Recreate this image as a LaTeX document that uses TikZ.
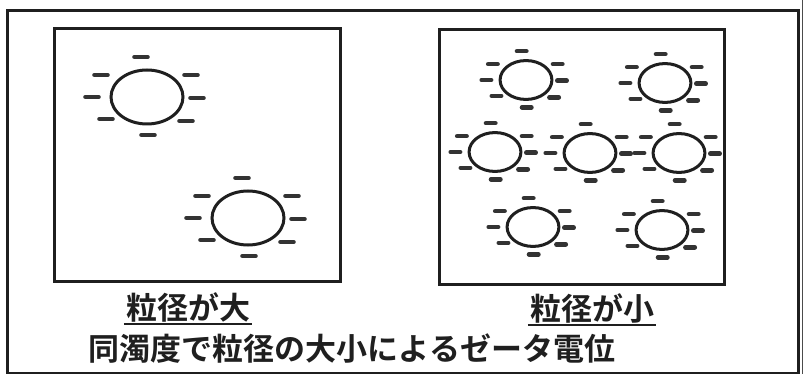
\documentclass[tikz,border=0pt]{standalone}
\usepackage{fontspec}
\newfontfamily\jpfont{Noto Sans CJK JP}[BoldFont={* Bold}]
\tikzset{
  frame/.style={draw=black!88, line width=3pt},
  boxline/.style={draw=black!88, line width=3pt},
  ringline/.style={draw=black!88, line width=3pt},
  charge/.style={draw=black!80, line width=4.6pt, line cap=round},
  label/.style={font=\jpfont\bfseries\fontsize{31}{34}\selectfont, text=black!88, inner sep=0pt},
  particle/.pic={
    \draw[ringline] (0,0) ellipse [x radius=36, y radius=27];
    \foreach \px/\py in {-6/-40, -46/-22, -55/0, -41/22, 1/38, 39/24, 50/1, 44/-22}
      \draw[charge] (\px-6.5,\py) -- (\px+6.5,\py);
  }
}
\begin{document}
\begin{tikzpicture}[x=1pt,y=-1pt]
\useasboundingbox (0,0) rectangle (804,374);
\fill[white] (0,0) rectangle (804,374);
% outer frame
\draw[frame] (7,11) rectangle (798,373);
\draw[black!70, line width=1pt] (802.5,0) -- (802.5,374);
% inner boxes
\draw[boxline] (54,29) rectangle (340,282);
\draw[boxline] (439,30) rectangle (724,285);
% large particles
\pic at (147,97) {particle};
\pic at (248,218) {particle};
% small particles
\foreach \cx/\cy in {526/80, 665/83, 495/152, 590/153, 679/153, 533/227, 662/230}
  \pic[scale=0.72] at (\cx,\cy) {particle};
% labels
\node[label] (big) at (188,307) {粒径が大};
\draw[black!88, line width=1.8pt] (big.south west) ++(-2,2) -- ([xshift=2pt,yshift=-2pt]big.south east);
\node[label] (small) at (592,308) {粒径が小};
\draw[black!88, line width=1.8pt] (small.south west) ++(-2,2) -- ([xshift=2pt,yshift=-2pt]small.south east);
\node[label] (title) at (352,349) {同濁度で粒径の大小によるゼータ電位};
\end{tikzpicture}
\end{document}
